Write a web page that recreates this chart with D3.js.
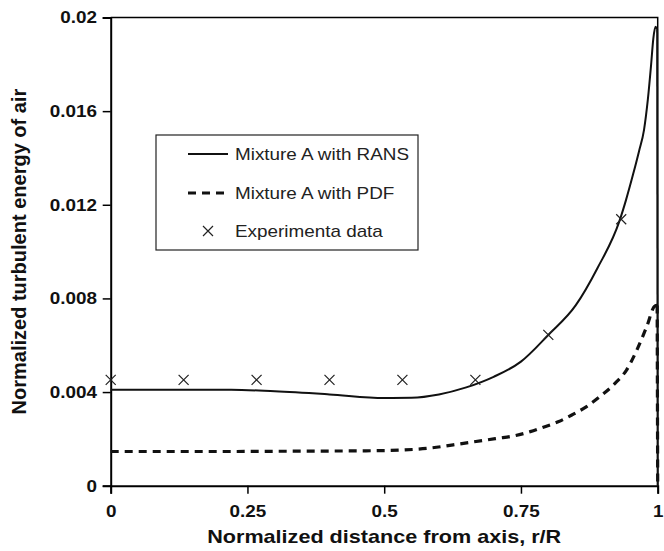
<!DOCTYPE html>
<html><head><meta charset="utf-8">
<script src="https://cdn.jsdelivr.net/npm/d3@7/dist/d3.min.js"></script>
<style>body{margin:0;background:#fff}svg{display:block}text{font-family:"Liberation Sans",Arial,sans-serif}</style>
</head><body><svg id="c" width="664" height="551"></svg>
<script>
const xTicks = [0, 0.25, 0.5, 0.75, 1];
const xTickLabels = ["0", "0.25", "0.5", "0.75", "1"];
const yTicks = [0, 0.004, 0.008, 0.012, 0.016, 0.02];
const yTickLabels = ["0", "0.004", "0.008", "0.012", "0.016", "0.02"];

const ransX = [0, 0.1, 0.22, 0.3, 0.4, 0.5, 0.55, 0.6, 0.65, 0.7, 0.75, 0.8, 0.85, 0.89, 0.93, 0.942, 0.955, 0.966, 0.975, 0.982, 0.988, 0.992, 0.996, 0.999, 1.0];
const ransY = [0.0041, 0.0041, 0.0041, 0.00403, 0.0039, 0.00375, 0.00376, 0.0039, 0.0042, 0.00465, 0.0053, 0.00644, 0.0077, 0.0093, 0.0113, 0.0122, 0.0133, 0.0143, 0.0152, 0.0165, 0.018, 0.0191, 0.0196, 0.0195, 0];

const pdfX = [0, 0.1, 0.2, 0.3, 0.4, 0.5, 0.58, 0.645, 0.706, 0.74, 0.767, 0.791, 0.818, 0.843, 0.87, 0.894, 0.922, 0.943, 0.962, 0.98, 0.995, 0.999, 1.0];
const pdfY = [0.00146, 0.00146, 0.00146, 0.00147, 0.00148, 0.0015, 0.0016, 0.00181, 0.00202, 0.00214, 0.00231, 0.0025, 0.00273, 0.00302, 0.00338, 0.0038, 0.00437, 0.00494, 0.0058, 0.0068, 0.00768, 0.0077, 0];

const expX = [0, 0.1333, 0.2667, 0.4, 0.5333, 0.6667, 0.8, 0.9333];
const expY = [0.00452, 0.00452, 0.00452, 0.00452, 0.00452, 0.00452, 0.00644, 0.01138];

const legendLabels = ["Mixture A with RANS", "Mixture A with PDF", "Experimenta data"];
const xTitle = "Normalized distance from axis, r/R";
const yTitle = "Normalized turbulent energy of air";

const SX = 1.18; // horizontal stretch of the original figure's lettering
const svg = d3.select("#c");
const L = 110.7, R = 657.7, T = 17.5, B = 485.7;
const x = d3.scaleLinear().domain([0, 1]).range([L, R]);
const y = d3.scaleLinear().domain([0, 0.02]).range([B, T]);

// plot frame (top and right)
svg.append("path").attr("d", `M${L},${T}H${R}V${B}`).attr("fill","none").attr("stroke","#000").attr("stroke-width",1.5);

// axes
const xAxis = d3.axisBottom(x).tickValues(xTicks).tickFormat((d,i)=>xTickLabels[i]).tickSize(8);
const gx = svg.append("g").attr("transform",`translate(0,${B})`).call(xAxis);
const yAxis = d3.axisLeft(y).tickValues(yTicks).tickFormat((d,i)=>yTickLabels[i]).tickSize(8);
const gy = svg.append("g").attr("transform",`translate(${L},0)`).call(yAxis);
[gx, gy].forEach(g=>{
  g.select(".domain").attr("stroke","#000").attr("stroke-width",2);
  g.selectAll(".tick line").attr("stroke","#000").attr("stroke-width",1.5);
  g.selectAll(".tick text").attr("fill","#111").style("font-size","16px").style("font-weight","bold")
    .style("font-family","'Liberation Sans',Arial,sans-serif").attr("transform",`scale(${SX},1)`);
});
gx.selectAll(".tick text").attr("y", 19.5).attr("dy","0.71em");
gy.selectAll(".tick text").attr("x", -13.7/SX).attr("dy","0.34em");

// curves: smooth body plus the straight drop at r/R = 1
const line = d3.line().x(d=>x(d[0])).y(d=>y(d[1])).curve(d3.curveMonotoneX);
const straight = d3.line().x(d=>x(d[0])).y(d=>y(d[1]));
function drawSeries(xs, ys, attrs){
  const pts = xs.map((v,i)=>[v, ys[i]]);
  const main = pts.slice(0, pts.length-1);
  const drop = pts.slice(pts.length-2);
  [[main, line],[drop, straight]].forEach(([p, gen])=>{
    const el = svg.append("path").datum(p).attr("d", gen).attr("fill","none");
    Object.entries(attrs).forEach(([k,v])=>el.attr(k,v));
  });
}
drawSeries(ransX, ransY, {"stroke":"#111","stroke-width":2});
drawSeries(pdfX, pdfY, {"stroke":"#111","stroke-width":3.2,"stroke-dasharray":"8,6"});

// markers
const ms = 5;
const crossPath = (cx, cy) => `M${cx-ms},${cy-ms}L${cx+ms},${cy+ms}M${cx-ms},${cy+ms}L${cx+ms},${cy-ms}`;
svg.append("g").selectAll("path").data(expX.map((v,i)=>[v, expY[i]])).join("path")
  .attr("d", d=>crossPath(x(d[0]), y(d[1]))).attr("stroke","#222").attr("stroke-width",1.2).attr("fill","none");

// legend
const lg = svg.append("g");
lg.append("rect").attr("x",156).attr("y",135).attr("width",262).attr("height",115).attr("fill","#fff").attr("stroke","#222").attr("stroke-width",1.2);
const rows = [154, 193, 231];
lg.append("line").attr("x1",188).attr("x2",228).attr("y1",rows[0]).attr("y2",rows[0]).attr("stroke","#111").attr("stroke-width",2);
lg.append("line").attr("x1",188).attr("x2",228).attr("y1",rows[1]).attr("y2",rows[1]).attr("stroke","#111").attr("stroke-width",3.2).attr("stroke-dasharray","8,6");
lg.append("path").attr("d", crossPath(208, rows[2])).attr("stroke","#222").attr("stroke-width",1.2);
lg.selectAll("text").data(legendLabels).join("text")
  .attr("transform",(d,i)=>`translate(235,${rows[i]}) scale(${SX},1)`).attr("dy","0.35em")
  .style("font-size","16px").attr("fill","#222").text(d=>d);

// titles
svg.append("text").attr("transform",`translate(${(L+R)/2},543) scale(1.2,1)`).attr("text-anchor","middle")
  .style("font-size","18px").style("font-weight","bold").attr("fill","#111").text(xTitle);
svg.append("text").attr("transform",`translate(26,${(T+B)/2}) rotate(-90)`).attr("text-anchor","middle")
  .style("font-size","20px").style("font-weight","bold").attr("fill","#111").text(yTitle);
</script></body></html>
